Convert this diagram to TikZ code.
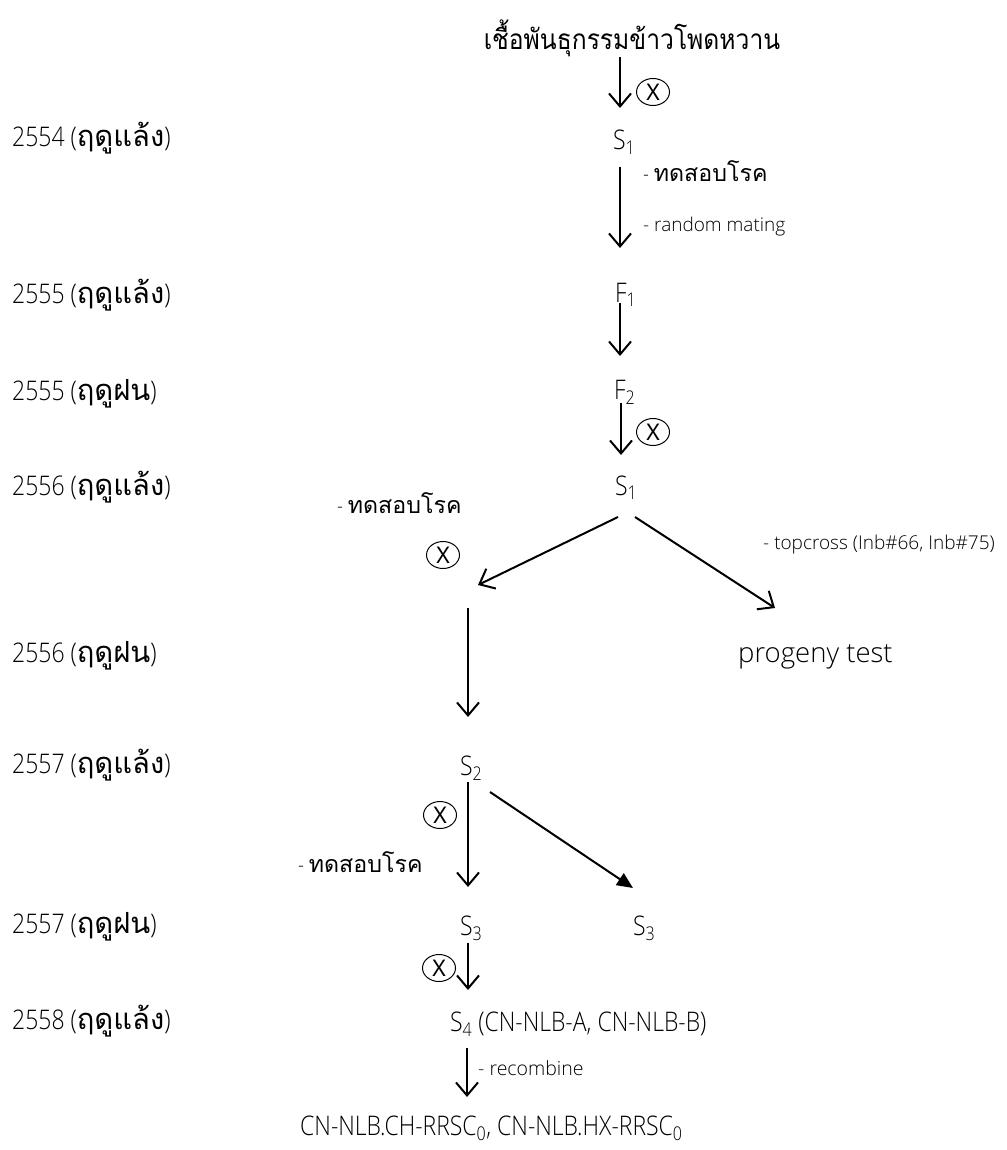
\documentclass[tikz,border=0pt]{standalone}
\usepackage{fontspec}
\setmainfont{Open Sans Light}[FakeStretch=0.85]
\newfontfamily\widef{Open Sans Light}
\newfontfamily\xfont{Noto Sans}
\newfontfamily\thaifont[Script=Thai,Scale=1.08]{Loma}
\newfontfamily\thaititle[Script=Thai,FakeStretch=0.88]{Loma}
\usetikzlibrary{arrows.meta,shapes.geometric}
\newcommand\tf[1]{{\thaifont #1}}
\newcommand\bigf{\fontsize{27}{32}\selectfont}
\newcommand\midf{\fontsize{21.5}{26}\selectfont}
\newcommand\smlf{\fontsize{19}{23}\selectfont\widef}
\tikzset{
  lbl/.style={inner sep=0pt, anchor=base west, font=\bigf},
  mlbl/.style={inner sep=0pt, anchor=base west, font=\midf},
  slbl/.style={inner sep=0pt, anchor=base west, font=\smlf},
  arr/.style={line width=2pt, -{Straight Barb[length=13pt,width=22pt,line width=2pt]}},
  farr/.style={line width=2pt, -{Triangle[length=16pt,width=14pt]}},
  selfx/.style={ellipse, draw, line width=1pt, minimum width=33pt, minimum height=27pt, inner sep=0pt, font=\fontsize{23}{26}\selectfont\xfont}
}
\begin{document}
\begin{tikzpicture}[x=1pt,y=-1pt]
\useasboundingbox (0,0) rectangle (1006,1150);
% title
\node[inner sep=0pt, anchor=base, font=\fontsize{28}{34}\selectfont\thaititle] (title) at (632,50) {เชื้อพันธุกรรมข้าวโพดหวาน};
% year labels
\node[lbl] (y1) at (12,147) {2554 (\tf{ฤดูแล้ง})};
\node[lbl] (y2) at (12,303) {2555 (\tf{ฤดูแล้ง})};
\node[lbl] (y3) at (12,400) {2555 (\tf{ฤดูฝน})};
\node[lbl] (y4) at (12,495) {2556 (\tf{ฤดูแล้ง})};
\node[lbl] (y5) at (12,662) {2556 (\tf{ฤดูฝน})};
\node[lbl] (y6) at (12,773) {2557 (\tf{ฤดูแล้ง})};
\node[lbl] (y7) at (12,933) {2557 (\tf{ฤดูฝน})};
\node[lbl] (y8) at (12,1029) {2558 (\tf{ฤดูแล้ง})};
% generation nodes
\node[lbl] (s1a) at (613,150) {S\textsubscript{1}};
\node[lbl] (f1) at (615,302) {F\textsubscript{1}};
\node[lbl] (f2) at (614,399) {F\textsubscript{2}};
\node[lbl] (s1b) at (615,495) {S\textsubscript{1}};
\node[lbl, font=\fontsize{27.5}{32}\selectfont\widef] (prog) at (738,662) {progeny test};
\node[lbl] (s2) at (460,775) {S\textsubscript{2}};
\node[lbl] (s3a) at (460,935) {S\textsubscript{3}};
\node[lbl] (s3b) at (633,935) {S\textsubscript{3}};
\node[lbl] (s4) at (450,1031) {S\textsubscript{4} (CN-NLB-A, CN-NLB-B)};
\node[lbl] (fin) at (300,1135) {CN-NLB.CH-RRSC\textsubscript{0}, CN-NLB.HX-RRSC\textsubscript{0}};
% side labels
\node[mlbl] (t1) at (643,182) {- \tf{ทดสอบโรค}};
\node[slbl] (rm) at (643,232) {- random mating};
\node[mlbl] (t2) at (337,513) {- \tf{ทดสอบโรค}};
\node[slbl] (tc) at (763,549) {- topcross (Inb\#66, Inb\#75)};
\node[mlbl] (t3) at (298,872) {- \tf{ทดสอบโรค}};
\node[slbl, font=\fontsize{19.5}{23}\selectfont\widef] (rc) at (478,1075) {- recombine};
% selfing marks
\node[selfx] (x1) at (653,92) {X};
\node[selfx] (x2) at (653,432) {X};
\node[selfx] (x3) at (443,555) {X};
\node[selfx] (x4) at (440,815) {X};
\node[selfx] (x5) at (439,968) {X};
% connector end points
\coordinate (a1s) at (620,57);   \coordinate (a1e) at (620,108);
\coordinate (a2s) at (620,167);  \coordinate (a2e) at (620,248);
\coordinate (a3s) at (620,303);  \coordinate (a3e) at (620,356);
\coordinate (a4s) at (621,403);  \coordinate (a4e) at (621,455);
\coordinate (a5s) at (618,517);  \coordinate (a5e) at (478,585);
\coordinate (a6s) at (635,517);  \coordinate (a6e) at (775,608);
\coordinate (a7s) at (468,608);  \coordinate (a7e) at (468,717);
\coordinate (a8s) at (468,782);  \coordinate (a8e) at (468,887);
\coordinate (a9s) at (490,792);  \coordinate (a9e) at (633,888);
\coordinate (a10s) at (468,943); \coordinate (a10e) at (468,990);
\coordinate (a11s) at (467,1048); \coordinate (a11e) at (467,1097);
\draw[arr] (a1s) -- (a1e);
\draw[arr] (a2s) -- (a2e);
\draw[arr] (a3s) -- (a3e);
\draw[arr] (a4s) -- (a4e);
\draw[arr] (a5s) -- (a5e);
\draw[arr] (a6s) -- (a6e);
\draw[arr] (a7s) -- (a7e);
\draw[arr] (a8s) -- (a8e);
\draw[farr] (a9s) -- (a9e);
\draw[arr] (a10s) -- (a10e);
\draw[arr] (a11s) -- (a11e);
\end{tikzpicture}
\end{document}
